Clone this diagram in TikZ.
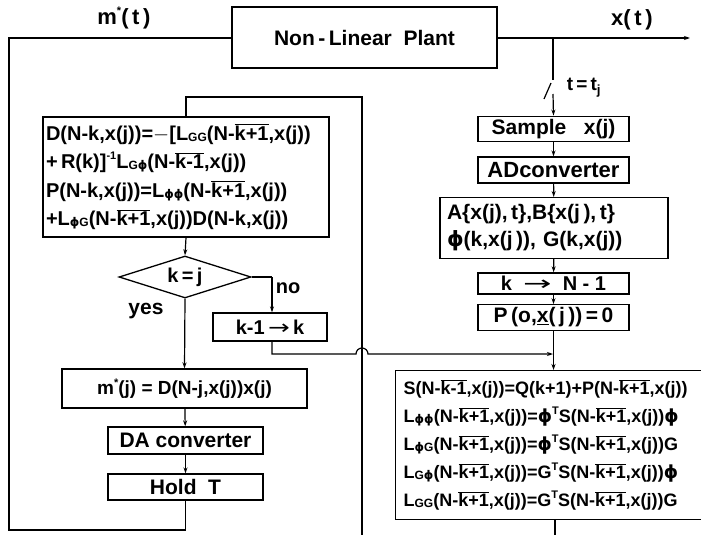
\documentclass[tikz,border=0pt]{standalone}
\usepackage{fontspec}
\setmainfont{Liberation Sans}
\newfontfamily\dv{DejaVu Sans}
\usetikzlibrary{arrows.meta,shapes.geometric}
\newcommand\Sb[1]{\raisebox{-0.1ex}{\fontsize{12}{12}\selectfont #1}}
\newcommand\Ov[1]{$\overline{\hbox{#1}}$}
\newcommand\Sp[1]{\raisebox{0.85ex}{\fontsize{11}{11}\selectfont #1}}
\newcommand\ph{{\dv ϕ}}
\newcommand\Ar[1]{\scalebox{#1}[1]{{\dv\mdseries →}}}
\begin{document}
\begin{tikzpicture}[x=1pt,y=-1pt,line width=1.2pt,
  box/.style={draw,rectangle,inner sep=3pt,line width=1.3pt},
  fs/.style={font=\bfseries\fontsize{#1}{28}\selectfont},
  arr/.style={-{Stealth[length=6pt,width=4pt]}}]
\useasboundingbox (0,0) rectangle (701,535);
\begin{scope}
\clip (0,0) rectangle (701,535);
% nodes
\node[box,fs=21,minimum width=265pt,minimum height=61pt] (plant) at (364.5,37.5) {Non\,-\,Linear\ \ Plant};
\node[box,fs=21,minimum width=151pt,minimum height=24pt] (samp) at (553.5,129) {Sample\ \ \ x(j)};
\node[box,fs=22,minimum width=151pt,minimum height=26pt] (adc) at (553.5,170) {ADconverter};
\node[box,minimum width=228pt,minimum height=58pt,align=left,text width=214pt,inner sep=7pt,font=\bfseries\fontsize{21}{27}\selectfont] (ab) at (554,228) {A\{x(j),\,t\},B\{x(j\,),\,t\}\\ \ph(k,x(j\,)), G(k,x(j))};
\node[box,fs=20,minimum width=151pt,minimum height=21pt] (kn) at (553.5,283.5) {k\ \ \Ar{1.7}\ \ N\ -\ 1};
\node[box,fs=21,minimum width=151pt,minimum height=21pt] (p0) at (553.5,317.5) {P\,(o,\underline{x}(\,j\,))\,=\,0};
\node[box,minimum width=316pt,minimum height=149pt,anchor=north west,align=left,text width=300pt,font=\bfseries\fontsize{18}{28}\selectfont] (sb) at (395,370) {%
S(N-\Ov{k-1},x(j))=Q(k+1)+P(N-\Ov{k+1},x(j))\\
L\Sb{\ph\ph}(N-\Ov{k+1},x(j))=\ph\Sp{T}S(N-\Ov{k+1},x(j))\ph\\
L\Sb{\ph G}(N-\Ov{k+1},x(j))=\ph\Sp{T}S(N-\Ov{k+1},x(j))G\\
L\Sb{G\ph}(N-\Ov{k+1},x(j))=G\Sp{T}S(N-\Ov{k+1},x(j))\ph\\
L\Sb{GG}(N-\Ov{k+1},x(j))=G\Sp{T}S(N-\Ov{k+1},x(j))G};
\node[box,minimum width=286pt,minimum height=120pt,align=left,text width=280pt,font=\bfseries\fontsize{20}{28.5}\selectfont] (dbox) at (186,177) {%
D(N-k,x(j))=$-$[L\Sb{GG}(N-\Ov{k+1},x(j))\\
+\,R(k)]\Sp{-1}L\Sb{G\ph}(N-\Ov{k-1},x(j))\\
P(N-k,x(j))=L\Sb{\ph\ph}(N-\Ov{k+1},x(j))\\
+L\Sb{\ph G}(N-\Ov{k+1},x(j))D(N-k,x(j))};
\node[diamond,draw,line width=1.3pt,aspect=3.1,minimum width=132pt,minimum height=42pt,inner sep=0pt,fs=20] (dia) at (185,277) {k\,=\,j};
\node[box,fs=20,minimum width=114pt,minimum height=28pt] (kk) at (270,327) {k-1\,\Ar{1.3}\,k};
\node[box,fs=19,minimum width=245pt,minimum height=39pt] (mj) at (184.5,388.5) {m\Sp{*}(j) = D(N-j,x(j))x(j)};
\node[box,fs=21,minimum width=155pt,minimum height=27pt] (da) at (185.5,440.5) {DA converter};
\node[box,fs=21,minimum width=155pt,minimum height=26pt] (hold) at (185.5,487) {Hold\ \ T};
% labels
\node[fs=22] (lm) at (124,18) {m\Sp{*}(\,t\,)};
\node[fs=22] (lx) at (632,20) {x(\,t\,)};
\node[fs=19] (lt) at (584,88) {t\,=\,t\textsubscript{j}};
\node[fs=21] (lyes) at (146,311) {yes};
\node[fs=20] (lno) at (288,288) {no};
% coordinates
\coordinate (xo) at (690,38);
\coordinate (br) at (553,38);
\coordinate (sw1) at (553,80);
\coordinate (sw2) at (544,99);
\coordinate (sw3) at (551,83);
\coordinate (sw4) at (553,94);
\coordinate (tl) at (9,38);
\coordinate (bl) at (9,530);
\coordinate (lt1) at (362,97);
\coordinate (lb1) at (362,535);
\coordinate (mg) at (553,354);
\coordinate (nr) at (272,277);
\coordinate (sbot) at (555,535);
% connectors
\draw[arr] (plant.east |- xo) -- (xo);
\draw (br) -- (sw1);
\draw (sw2) -- (sw3);
\draw[arr] (sw4) -- (samp.north);
\draw[arr] (samp) -- (adc);
\draw[arr] (adc) -- (ab);
\draw[arr] (ab) -- (kn);
\draw[arr] (kn) -- (p0);
\draw[arr] (p0.south) -- (sb.north -| p0.south);
\draw (plant.west |- tl) -- (tl) -- (bl) -| (hold.south);
\draw (dbox.north) |- (lt1) -- (lb1);
\draw[arr] (dbox.south) -- (dia.north);
\draw[arr] (dia.south) -- (mj.north);
\draw[arr] (mj) -- (da);
\draw[arr] (da) -- (hold);
\draw (dia.east) -- (nr);
\draw[arr] (nr) -- (nr |- kk.north);
\draw[arr] (nr |- kk.south) -- (272,354) -- (356,354) arc[start angle=180,end angle=360,radius=6] -- (mg);
\draw (sbot |- sb.south) -- (sbot);
\end{scope}
\end{tikzpicture}
\end{document}
